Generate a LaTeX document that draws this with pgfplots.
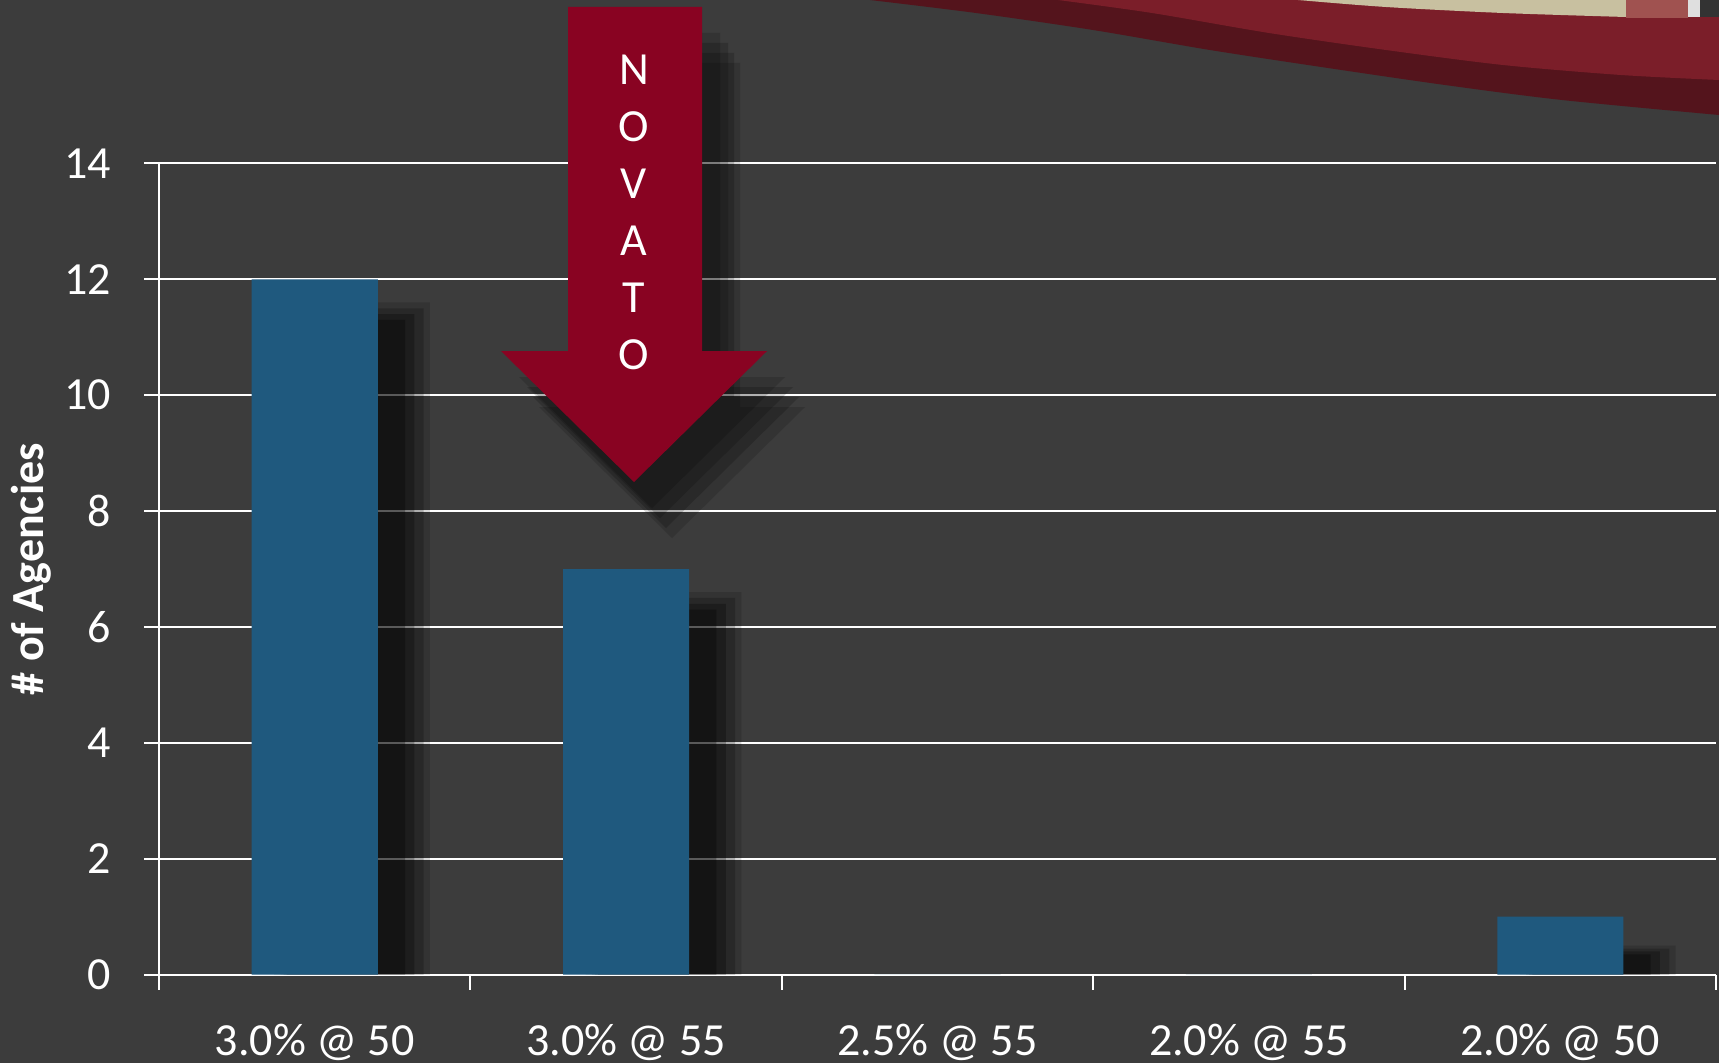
\documentclass[border=0pt]{standalone}
\usepackage{fontspec}
\setmainfont{Carlito}
\usepackage{pgfplots}
\pgfplotsset{compat=1.18}
\definecolor{bg}{RGB}{60,60,60}
\definecolor{barblue}{RGB}{31,89,126}
\definecolor{arrowred}{RGB}{137,3,34}
\definecolor{wavedark}{RGB}{84,20,28}
\definecolor{wavelight}{RGB}{123,30,41}
\definecolor{cream}{RGB}{200,192,160}
\definecolor{pinkblk}{RGB}{160,82,80}
\begin{document}
\begin{tikzpicture}
\begin{scope}[x=0.25pt,y=0.25pt]
\fill[bg] (0,0) rectangle (1719,1063);
\begin{scope}
\clip (0,0) rectangle (1719,1063);
\fill[wavedark] plot[smooth] coordinates {(870,1063) (976,1050) (1093,1033) (1210,1013) (1328,995) (1445,978) (1562,963) (1719,948)} -- (1730,948) -- (1730,1070) -- (870,1070) -- cycle;
\fill[wavelight] plot[smooth] coordinates {(1058,1063) (1152,1050) (1269,1030) (1386,1013) (1503,998) (1621,988) (1719,983)} -- (1730,983) -- (1730,1070) -- (1058,1070) -- cycle;
\fill[cream] plot[smooth] coordinates {(1298,1063) (1386,1056) (1503,1050) (1626,1046)} -- (1626,1070) -- (1298,1070) -- cycle;
\fill[pinkblk] (1626,1045) rectangle (1688,1070);
\fill[gray!25] (1688,1046) rectangle (1700,1070);
\fill[black!80] (1700,1046) rectangle (1719,1070);
\end{scope}
\end{scope}
\begin{axis}[
  at={(39.75pt,22.1pt)}, anchor=south west,
  scale only axis, width=389.25pt, height=202.8pt,
  xmin=-0.5, xmax=4.5, ymin=0, ymax=14,
  ybar,
  axis lines*=left,
  axis line style={white, line width=0.5pt, -},
  xtick={-0.5,0.5,1.5,2.5,3.5,4.5},
  x tick label as interval,
  xticklabels={3.0\% @ 50, 3.0\% @ 55, 2.5\% @ 55, 2.0\% @ 55, 2.0\% @ 50},
  ytick={0,2,...,14},
  ymajorgrids,
  grid style={white, line width=0.5pt},
  tick style={white, line width=0.5pt},
  tick align=outside,
  major tick length=3.75pt,
  ticklabel style={font=\fontsize{11.5}{13}\selectfont, text=white},
  /pgf/number format/assume math mode=true,
  yticklabel style={inner sep=0pt, xshift=-8pt},
  xticklabel style={inner sep=0pt, yshift=-8.5pt},
  ylabel={\# of Agencies},
  ylabel style={font=\bfseries\fontsize{11.5}{13}\selectfont, text=white, at={(axis description cs:-0.0822,0.5)}, anchor=center},
]
\addplot[fill=black, draw=none, opacity=0.15, bar width=0.5, bar shift=0.12] coordinates {(0,11.6) (1,6.6) (4,0.5)};
\addplot[fill=black, draw=none, opacity=0.2, bar width=0.46, bar shift=0.12] coordinates {(0,11.5) (1,6.5) (4,0.45)};
\addplot[fill=black, draw=none, opacity=0.25, bar width=0.42, bar shift=0.11] coordinates {(0,11.4) (1,6.4) (4,0.4)};
\addplot[fill=black, draw=none, opacity=0.3, bar width=0.38, bar shift=0.1] coordinates {(0,11.3) (1,6.3) (4,0.35)};
\addplot[fill=barblue, draw=none, bar width=0.405, bar shift=0] coordinates {(0,12) (1,7) (2,0) (3,0) (4,1)};
\end{axis}
\begin{scope}[x=0.25pt,y=0.25pt]
\foreach \dx/\dy/\op in {18/-26/0.15, 26/-36/0.18, 32/-46/0.18, 38/-56/0.15}{
  \fill[black, opacity=\op, shift={(\dx,\dy)}] (568,1056) -- (702,1056) -- (702,712) -- (767,712) -- (634,581) -- (501,712) -- (568,712) -- cycle;
}
\fill[arrowred] (568,1056) -- (702,1056) -- (702,712) -- (767,712) -- (634,581) -- (501,712) -- (568,712) -- cycle;
\node[text=white, font=\fontsize{11.5}{14.25}\selectfont, align=center, inner sep=0pt] at (634,851) {N\\O\\V\\A\\T\\O};
\end{scope}
\pgfresetboundingbox
\useasboundingbox (0,0) rectangle (429.75pt,265.75pt);
\end{tikzpicture}
\end{document}
